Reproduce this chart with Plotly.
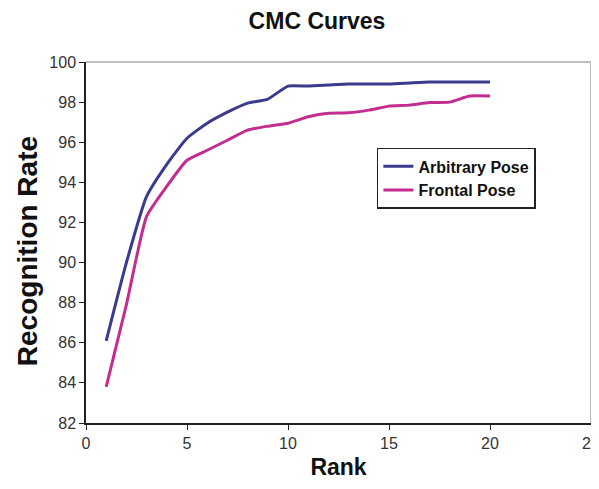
import plotly.graph_objects as go

rank = list(range(1, 21))
arbitrary_pose = [86.1, 90.0, 93.3, 94.9, 96.2, 96.95, 97.5, 97.95, 98.15, 98.8,
                  98.8, 98.85, 98.9, 98.9, 98.9, 98.95, 99.0, 99.0, 99.0, 99.0]
frontal_pose = [83.8, 87.9, 92.3, 93.8, 95.1, 95.6, 96.1, 96.6, 96.8, 96.95,
                97.27, 97.45, 97.47, 97.6, 97.8, 97.85, 97.98, 98.0, 98.3, 98.3]
x_ticks = [0, 5, 10, 15, 20, 25]
y_ticks = [82, 84, 86, 88, 90, 92, 94, 96, 98, 100]

FONT = "Liberation Sans, Arial, sans-serif"

fig = go.Figure()
fig.add_trace(go.Scatter(x=rank, y=arbitrary_pose, mode="lines", name="<b>Arbitrary Pose</b>",
                         line=dict(color="#3a3a8f", width=3, shape="spline", smoothing=0.5)))
fig.add_trace(go.Scatter(x=rank, y=frontal_pose, mode="lines", name="<b>Frontal Pose</b>",
                         line=dict(color="#c42d8f", width=3, shape="spline", smoothing=0.5)))

fig.update_layout(
    width=599, height=489,
    margin=dict(l=78, r=16, t=54, b=74),
    paper_bgcolor="white", plot_bgcolor="white",
    font=dict(family=FONT, color="#222"),
    title=dict(text="<b>CMC Curves</b>", x=309 / 599, xanchor="center",
               y=1 - 13 / 489, yanchor="middle",
               font=dict(family=FONT, size=23, color="#111")),
    xaxis=dict(range=[0, 25], tickvals=x_ticks, showgrid=False, zeroline=False,
               showline=True, linecolor="#222", linewidth=1.5,
               ticks="outside", ticklen=5, tickcolor="#222", automargin=False,
               tickfont=dict(family=FONT, size=16, color="#333"),
               title=dict(text="<b>Rank</b>", standoff=8,
                          font=dict(family=FONT, size=23, color="#111"))),
    yaxis=dict(range=[82, 100], tickvals=y_ticks, showgrid=False, zeroline=False,
               showline=True, linecolor="#222", linewidth=1.5,
               ticks="outside", ticklen=5, tickcolor="#222", automargin=False,
               tickfont=dict(family=FONT, size=16, color="#333")),
    annotations=[
        dict(text="<b>Recognition Rate</b>", textangle=-90, showarrow=False,
             xref="paper", yref="paper", x=-0.1168, y=0.476,
             xanchor="center", yanchor="middle",
             font=dict(family=FONT, size=28, color="#111")),
    ],
    legend=dict(x=0.576, y=0.762, xanchor="left", yanchor="top",
                bgcolor="white", bordercolor="#222", borderwidth=1.5,
                font=dict(family=FONT, size=16, color="#111"),
                itemwidth=30, tracegroupgap=2),
    shapes=[
        dict(type="line", xref="paper", yref="paper", x0=0, x1=1, y0=1, y1=1,
             line=dict(color="#aaa", width=1.5)),
        dict(type="line", xref="paper", yref="paper", x0=1, x1=1, y0=0, y1=1,
             line=dict(color="#aaa", width=1.5)),
    ],
)

fig.write_html("out.html")
